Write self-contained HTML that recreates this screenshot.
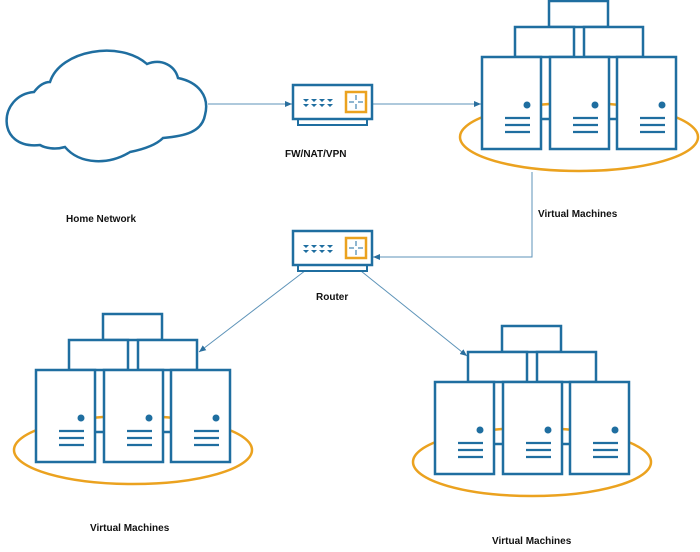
<!DOCTYPE html>
<html><head><meta charset="utf-8"><style>
body{margin:0;background:#fff;}
svg{display:block;}
text{font-family:"Liberation Sans",sans-serif;font-weight:bold;font-size:10px;fill:#111;}
</style></head><body>
<svg width="700" height="552" viewBox="0 0 700 552" xmlns="http://www.w3.org/2000/svg">
<defs>
<marker id="ar" markerWidth="8" markerHeight="8" refX="7" refY="4" orient="auto" markerUnits="userSpaceOnUse">
<path d="M0,1 L7,4 L0,7 z" fill="#2a6f9e"/>
</marker>
<g id="srv">
<rect x="0" y="0" width="59" height="92" fill="#fff" stroke="#1f6ea0" stroke-width="2.5"/>
<circle cx="45" cy="48" r="3.5" fill="#1f6ea0"/>
<path d="M23,61H48M23,68H48M23,75H48" stroke="#1f6ea0" stroke-width="2.2"/>
</g>
<g id="cl">
<ellipse cx="97" cy="136" rx="119" ry="34" fill="none" stroke="#eba21f" stroke-width="2.5"/>
<g fill="#fff" stroke="#1f6ea0" stroke-width="2.5">
<rect x="67" y="0" width="59" height="26"/>
<rect x="33" y="26" width="59" height="30"/>
<rect x="102" y="26" width="59" height="30"/>
</g>
<path d="M59,118H68M127,118H135" stroke="#1f6ea0" stroke-width="2.5"/>
<use href="#srv" x="0" y="56"/>
<use href="#srv" x="68" y="56"/>
<use href="#srv" x="135" y="56"/>
</g>
<g id="rt">
<rect x="5" y="34" width="69" height="6" fill="#fff" stroke="#1f6ea0" stroke-width="2"/>
<rect x="0" y="0" width="79" height="34" fill="#fff" stroke="#1f6ea0" stroke-width="2.5"/>
<g fill="#1f6ea0">
<path d="M10,14h6l-3,3z M18,14h6l-3,3z M26,14h6l-3,3z M34,14h6l-3,3z"/>
<path d="M10,19h6l-3,3z M18,19h6l-3,3z M26,19h6l-3,3z M34,19h6l-3,3z"/>
</g>
<rect x="53" y="7" width="20" height="20" fill="#fff" stroke="#eba21f" stroke-width="2.5"/>
<path d="M63,10v5M63,19v5M56,17h5M65,17h5" stroke="#1f6ea0" stroke-width="1"/>
</g>
</defs>

<!-- cloud -->
<path d="M34,92 C40,84 46,82 50,82 C60,50 120,40 147,64 C162,58 175,66 178,78 C198,82 210,96 205,115 C202,132 185,136 163,138 C155,146 140,150 130,152 C110,165 80,165 65,147 C55,150 45,148 40,145 C-5,150 -2,95 34,92 Z" fill="#fff" stroke="#1f6ea0" stroke-width="2.5"/>

<!-- connectors -->
<g stroke="#5d93b8" stroke-width="1" fill="none">
<path d="M208,104H292" marker-end="url(#ar)"/>
<path d="M372,104H481" marker-end="url(#ar)"/>
<path d="M532,172V257H373" marker-end="url(#ar)"/>
<path d="M310,267L199,352" marker-end="url(#ar)"/>
<path d="M356,267L467,356" marker-end="url(#ar)"/>
</g>

<use href="#rt" x="293" y="85"/>
<use href="#rt" x="293" y="231"/>

<use href="#cl" x="482" y="1"/>
<use href="#cl" x="36" y="314"/>
<use href="#cl" x="435" y="326"/>

<text x="285" y="157">FW/NAT/VPN</text>
<text x="66" y="222">Home Network</text>
<text x="538" y="217">Virtual Machines</text>
<text x="316" y="300">Router</text>
<text x="90" y="531">Virtual Machines</text>
<text x="492" y="544">Virtual Machines</text>
</svg>
</body></html>
